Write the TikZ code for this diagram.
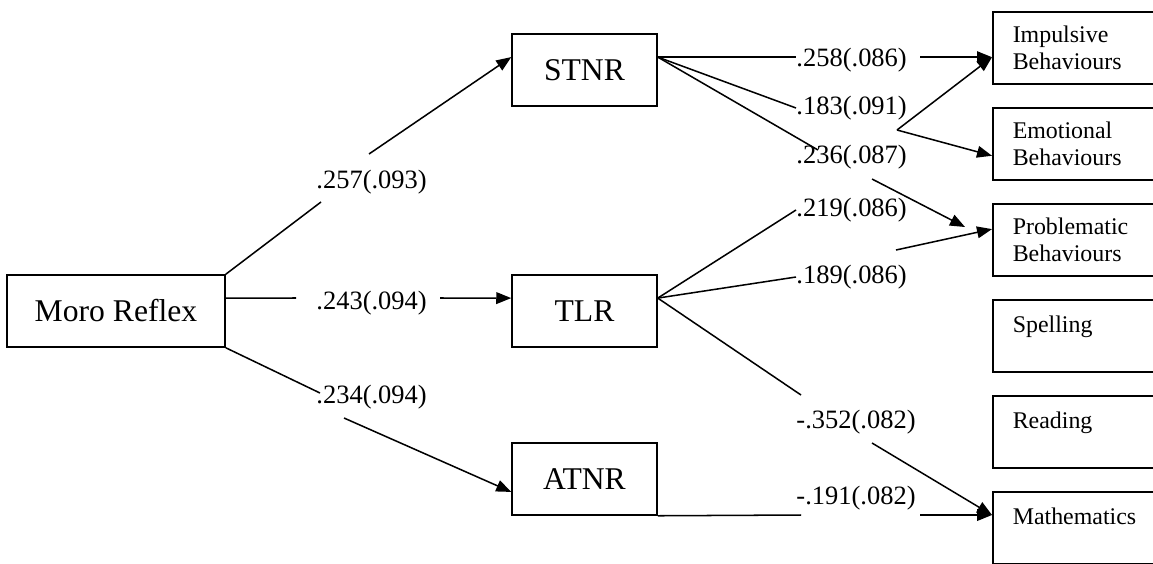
\documentclass[tikz,border=0pt]{standalone}
\usepackage{fontspec}
\setmainfont{Liberation Serif}
\usetikzlibrary{positioning,calc,arrows.meta}

\tikzset{
  reflex/.style={draw, line width=0.65pt, minimum height=1.08cm, inner sep=0pt, font=\fontsize{13.5}{16}\selectfont},
  outcome/.style={draw, line width=0.65pt, anchor=north west, minimum width=4cm, minimum height=1.08cm,
    text width=3.4cm, inner xsep=0.3cm, align=left, font=\fontsize{10.2}{11.7}\selectfont},
  coef/.style={anchor=west, inner sep=0pt, font=\fontsize{11.3}{13}\selectfont},
  link/.style={line width=0.65pt},
  effect/.style={line width=0.65pt, -{Triangle[length=6.4pt,width=5pt]}}
}

\begin{document}
\begin{tikzpicture}
\useasboundingbox (0,0) rectangle (17.295,8.445);

\node[reflex, minimum width=3.27cm] (moro) at (1.74,3.78) {Moro Reflex};
\node[reflex, minimum width=2.175cm] (stnr) at (8.7675,7.395) {STNR};
\node[reflex, minimum width=2.175cm] (tlr) at (8.7675,3.78) {TLR};
\node[reflex, minimum width=2.175cm] (atnr) at (8.7675,1.26) {ATNR};

\node[outcome] (imp) at (14.88,8.28) {Impulsive\\Behaviours};
\node[outcome] (emo) at (14.88,6.84) {Emotional\\Behaviours};
\node[outcome] (prob) at (14.88,5.40) {Problematic\\Behaviours};
\node[outcome] (spell) at (14.88,3.96) {Spelling\\[-5pt]\strut};
\node[outcome] (read) at (14.88,2.52) {Reading\\[-5pt]\strut};
\node[outcome] (math) at (14.88,1.08) {Mathematics\\[-5pt]\strut};

\node[coef] (c257) at (4.74,5.715) {.257(.093)};
\node[coef] (c243) at (4.74,3.90) {.243(.094)};
\node[coef] (c234) at (4.74,2.49) {.234(.094)};
\node[coef] (c258) at (11.94,7.545) {.258(.086)};
\node[coef] (c183) at (11.94,6.825) {.183(.091)};
\node[coef] (c236) at (11.94,6.09) {.236(.087)};
\node[coef] (c219) at (11.94,5.295) {.219(.086)};
\node[coef] (c189) at (11.94,4.29) {.189(.086)};
\node[coef] (c352) at (11.94,2.115) {-.352(.082)};
\node[coef] (c191) at (11.94,0.975) {-.191(.082)};

\coordinate (a257) at (4.815,5.415);
\coordinate (b257) at (5.535,6.135);
\coordinate (a243) at (4.44,3.975);
\coordinate (b243) at (6.60,3.975);
\coordinate (a234) at (4.80,2.55);
\coordinate (b234) at (5.16,2.175);
\coordinate (b258) at (13.80,7.587);
\coordinate (fork) at (13.455,6.495);
\coordinate (a236) at (12.27,6.195);
\coordinate (b236) at (13.08,5.76);
\coordinate (e236) at (14.475,5.04);
\coordinate (b219) at (13.44,4.695);
\coordinate (a352) at (12.015,2.52);
\coordinate (b352) at (13.08,1.80);
\coordinate (a191) at (12.015,0.72);
\coordinate (b191) at (13.80,0.72);

\draw[link] (moro.north east) -- (a257);
\draw[effect] (b257) -- (stnr.170);
\draw[link] (tlr.170 -| moro.east) -- (a243);
\draw[effect] (b243) -- (tlr.170);
\draw[link] (moro.south east) -- (a234);
\draw[effect] (b234) -- (atnr.190);

\draw[link] (stnr.10) -- (stnr.10 -| c258.west);
\draw[effect] (b258) -- (b258 -| imp.west);
\draw[link] (stnr.10) -- (c183.west);
\draw[effect] (fork) -- (b258 -| imp.west);
\draw[effect] (fork) -- ($(emo.west)+(0,-0.18)$);
\draw[link] (stnr.10) -- (a236);
\draw[effect] (b236) -- (e236);

\draw[link] (tlr.10) -- (c219.west);
\draw[effect] (b219) -- ($(prob.west)+(0,0.16)$);
\draw[link] (tlr.10) -- (c189.west);
\draw[link] (tlr.10) -- (a352);
\draw[effect] (b352) -- (b191 -| math.west);
\draw[link] (atnr.south east) -- (a191);
\draw[effect] (b191) -- (b191 -| math.west);
\end{tikzpicture}
\end{document}
